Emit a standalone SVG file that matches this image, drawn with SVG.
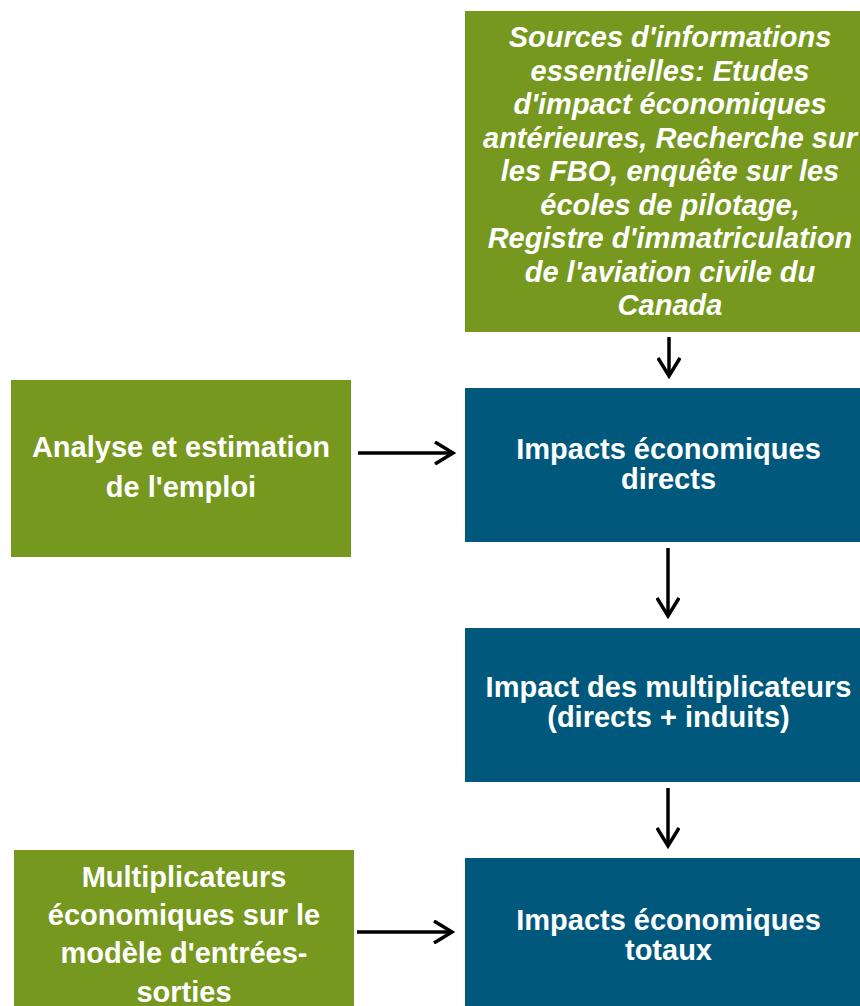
<svg xmlns="http://www.w3.org/2000/svg" width="860" height="1006" viewBox="0 0 860 1006">
<defs>
<style>
.green{fill:#76981E}
.blue{fill:#00587C}
.t{fill:#FFFFFF;font-family:"Liberation Sans",Arial,sans-serif;font-weight:bold;font-size:29px;text-anchor:middle}
.it{font-style:italic}
.c{stroke:#000;stroke-width:3.5;fill:none}
</style>
<marker id="ah" viewBox="0 0 24 24" refX="20" refY="12" markerWidth="24" markerHeight="24" markerUnits="userSpaceOnUse" orient="auto">
<path d="M2,1 L20,12 L2,23" fill="none" stroke="#000" stroke-width="3.5"/>
</marker>
</defs>
<rect width="860" height="1006" fill="#FFFFFF"/>
<g id="connectors">
<line class="c" x1="669" y1="337" x2="669" y2="376" marker-end="url(#ah)"/>
<line class="c" x1="358" y1="453" x2="453" y2="453" marker-end="url(#ah)"/>
<line class="c" x1="668" y1="548" x2="668" y2="616" marker-end="url(#ah)"/>
<line class="c" x1="668" y1="788" x2="668" y2="846" marker-end="url(#ah)"/>
<line class="c" x1="357" y1="932" x2="452" y2="932" marker-end="url(#ah)"/>
</g>
<g id="sources">
<rect class="green" x="465" y="11" width="400" height="321"/>
<text class="t it" x="670" y="47">Sources d'informations</text>
<text class="t it" x="670" y="80.5">essentielles: Etudes</text>
<text class="t it" x="670" y="114">d'impact économiques</text>
<text class="t it" x="670" y="147.5">antérieures, Recherche sur</text>
<text class="t it" x="670" y="181">les FBO, enquête sur les</text>
<text class="t it" x="670" y="214.5">écoles de pilotage,</text>
<text class="t it" x="670" y="248">Registre d'immatriculation</text>
<text class="t it" x="670" y="281.5">de l'aviation civile du</text>
<text class="t it" x="670" y="315">Canada</text>
</g>
<g id="analyse">
<rect class="green" x="11" y="380" width="340" height="177"/>
<text class="t" x="181" y="457">Analyse et estimation</text>
<text class="t" x="181" y="496.5">de l'emploi</text>
</g>
<g id="directs">
<rect class="blue" x="465" y="388" width="400" height="154"/>
<text class="t" x="668.5" y="459">Impacts économiques</text>
<text class="t" x="668.5" y="489">directs</text>
</g>
<g id="multiplicateurs">
<rect class="blue" x="465" y="628" width="400" height="154"/>
<text class="t" x="668.5" y="697">Impact des multiplicateurs</text>
<text class="t" x="668.5" y="727">(directs + induits)</text>
</g>
<g id="modele">
<rect class="green" x="14" y="850" width="340" height="170"/>
<text class="t" x="184" y="887">Multiplicateurs</text>
<text class="t" x="184" y="925">économiques sur le</text>
<text class="t" x="184" y="963">modèle d'entrées-</text>
<text class="t" x="184" y="1001.5">sorties</text>
</g>
<g id="totaux">
<rect class="blue" x="465" y="858" width="400" height="160"/>
<text class="t" x="668.5" y="929.5">Impacts économiques</text>
<text class="t" x="668.5" y="959.5">totaux</text>
</g>
</svg>
